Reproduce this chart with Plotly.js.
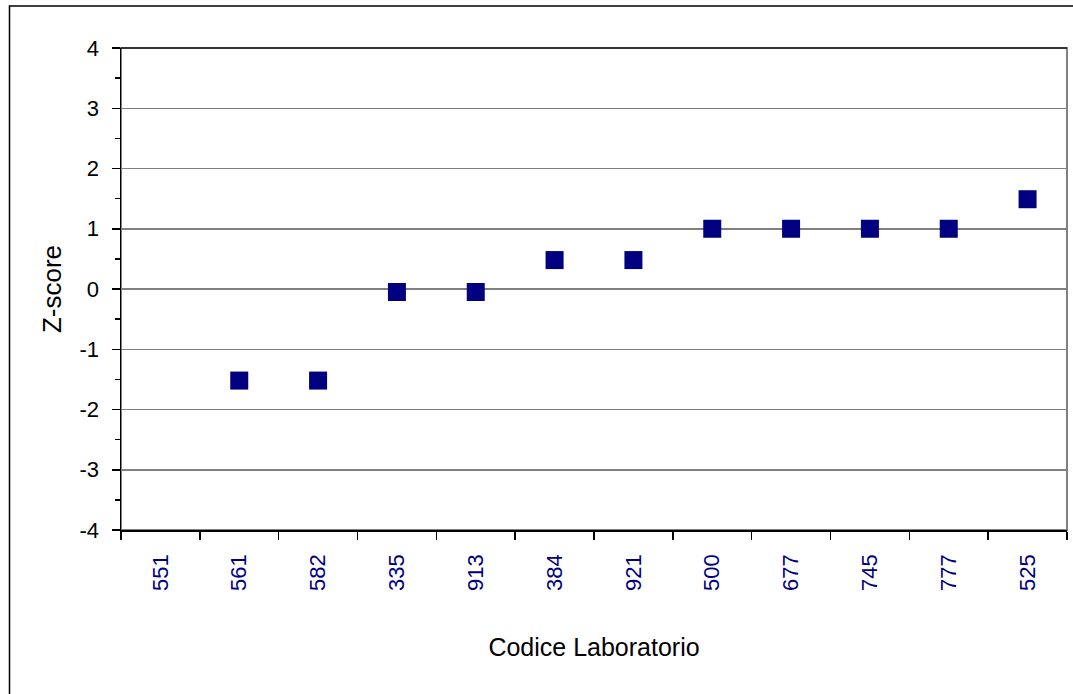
<!DOCTYPE html>
<html>
<head>
<meta charset="utf-8">
<script src="https://cdn.plot.ly/plotly-3.0.1.min.js"></script>
<style>
  html, body { margin: 0; padding: 0; background: #ffffff; }
  #chart { width: 1073px; height: 694px; }
</style>
</head>
<body>
<div id="chart"></div>
<script>
// Data
const labCodes = ['551', '561', '582', '335', '913', '384', '921', '500', '677', '745', '777', '525'];
const zScores = [null, -1.52, -1.52, -0.05, -0.05, 0.48, 0.48, 1.0, 1.0, 1.0, 1.0, 1.49];
const yTickVals = [-4, -3, -2, -1, 0, 1, 2, 3, 4];
const yTickText = ['-4', '-3', '-2', '-1', '0', '1', '2', '3', '4'];

const W = 1073, H = 694;
const M = { l: 121, r: 6, t: 47.5, b: 164 };
const pw = W - M.l - M.r, ph = H - M.t - M.b;
const px = v => (v - M.l) / pw;
const py = v => (H - M.b - v) / ph;

const trace = {
  type: 'scatter', mode: 'markers', x: labCodes, y: zScores,
  marker: { symbol: 'square', size: 18, color: '#000080', line: { width: 0 } },
  hoverinfo: 'x+y',
  showlegend: false
};

const layout = {
  width: W, height: H, margin: M,
  paper_bgcolor: '#ffffff', plot_bgcolor: '#ffffff',
  font: { family: 'Liberation Sans, Arial, sans-serif', color: '#000000' },
  showlegend: false,
  xaxis: {
    type: 'category', categoryorder: 'array', categoryarray: labCodes,
    range: [-0.5, labCodes.length - 0.5],
    tickson: 'boundaries', ticks: 'outside', ticklen: 8, tickwidth: 1.5, tickcolor: '#000000',
    tickangle: -90,
    tickfont: { size: 22, color: '#000080', family: 'Liberation Sans, Arial, sans-serif' },
    ticklabelstandoff: 14,
    showgrid: false, showline: true, linecolor: '#000000', linewidth: 1.5, zeroline: false,
    fixedrange: true, automargin: false,
    title: { text: 'Codice Laboratorio', font: { size: 25, color: '#000000' }, standoff: 48 }
  },
  yaxis: {
    range: [-4, 4], tickvals: yTickVals, ticktext: yTickText,
    ticks: 'outside', ticklen: 8, tickwidth: 1.5, tickcolor: '#000000',
    tickfont: { size: 22, color: '#000000', family: 'Liberation Sans, Arial, sans-serif' },
    ticklabelstandoff: 8,
    showgrid: true, gridcolor: '#808080', gridwidth: 1.5,
    showline: true, linecolor: '#000000', linewidth: 1.5, zeroline: false,
    fixedrange: true, automargin: false,
    minor: { dtick: 0.5, tick0: 0, ticks: 'outside', ticklen: 5, tickwidth: 1.5, tickcolor: '#000000', showgrid: false },
    title: { text: 'Z-score', font: { size: 26, color: '#000000' }, standoff: 10 }
  },
  shapes: [
    { type: 'rect', xref: 'paper', yref: 'paper', x0: 0, x1: 1, y0: 0, y1: 1,
      line: { color: '#808080', width: 2 }, fillcolor: 'rgba(0,0,0,0)', layer: 'below' },
    { type: 'line', xref: 'paper', yref: 'paper', x0: 0, x1: 1, y0: 1, y1: 1,
      line: { color: '#333333', width: 2 } },
    { type: 'rect', xref: 'paper', yref: 'paper',
      x0: px(9.5), x1: px(W + 20), y0: py(H + 20), y1: py(5.5),
      line: { color: '#000000', width: 1.5 }, fillcolor: 'rgba(0,0,0,0)', layer: 'below' }
  ]
};

Plotly.newPlot('chart', [trace], layout, { displayModeBar: false, staticPlot: true });
</script>
</body>
</html>
